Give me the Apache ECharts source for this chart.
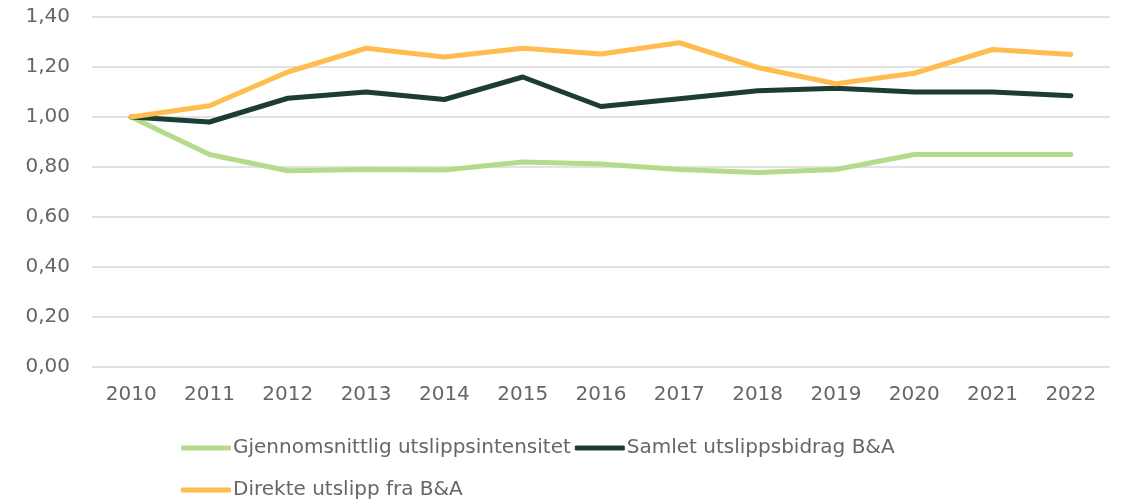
<!DOCTYPE html>
<html>
<head>
<meta charset="utf-8">
<script src="https://cdn.jsdelivr.net/npm/echarts@6/dist/echarts.min.js"></script>
<style>
  html, body { margin: 0; padding: 0; background: #fff; }
  #chart { width: 1121px; height: 503px; }
</style>
</head>
<body>
<div id="chart"></div>
<script>
// år på x-aksen
const years = ["2010", "2011", "2012", "2013", "2014", "2015", "2016", "2017", "2018", "2019", "2020", "2021", "2022"];
// indeks, 2010 = 1,00
const intensitet = [1.00, 0.85, 0.785, 0.79, 0.788, 0.82, 0.812, 0.79, 0.778, 0.79, 0.85, 0.85, 0.85];
const samlet = [1.00, 0.98, 1.075, 1.10, 1.07, 1.16, 1.042, 1.073, 1.105, 1.115, 1.10, 1.10, 1.085];
const direkte = [1.00, 1.045, 1.18, 1.275, 1.24, 1.275, 1.252, 1.297, 1.198, 1.133, 1.175, 1.27, 1.25];

const font = "DejaVu Sans";
const grey = "#666666";

const chart = echarts.init(document.getElementById("chart"));
chart.setOption({
  animation: false,
  grid: { left: 92, right: 11, top: 17, bottom: 136 },
  legend: [
    {
      left: 176, top: 433,
      itemWidth: 50, itemHeight: 5, itemGap: 4,
      icon: "roundRect",
      textStyle: { fontFamily: font, fontSize: 20, color: grey, padding: [0, 0, 0, -3] },
      data: ["Gjennomsnittlig utslippsintensitet", "Samlet utslippsbidrag B&A"]
    },
    {
      left: 176, top: 475,
      itemWidth: 50, itemHeight: 5,
      icon: "roundRect",
      textStyle: { fontFamily: font, fontSize: 20, color: grey, padding: [0, 0, 0, -3] },
      data: ["Direkte utslipp fra B&A"]
    }
  ],
  xAxis: {
    type: "category",
    data: years,
    boundaryGap: true,
    axisLine: { show: false },
    axisTick: { show: false },
    axisLabel: { fontFamily: font, fontSize: 20, color: grey, margin: 18 }
  },
  yAxis: {
    type: "value",
    min: 0, max: 1.4, interval: 0.2,
    axisLine: { show: false },
    axisTick: { show: false },
    splitLine: { lineStyle: { color: "#d9d9d9", width: 1.5 } },
    axisLabel: {
      fontFamily: font, fontSize: 20, color: grey, margin: 22,
      formatter: v => v.toFixed(2).replace(".", ",")
    }
  },
  series: [
    {
      name: "Gjennomsnittlig utslippsintensitet", type: "line", data: intensitet,
      showSymbol: false, color: "#b5da8c",
      lineStyle: { width: 5, cap: "round", join: "round" }
    },
    {
      name: "Samlet utslippsbidrag B&A", type: "line", data: samlet,
      showSymbol: false, color: "#1c3d33",
      lineStyle: { width: 5, cap: "round", join: "round" }
    },
    {
      name: "Direkte utslipp fra B&A", type: "line", data: direkte,
      showSymbol: false, color: "#ffbd4f",
      lineStyle: { width: 5, cap: "round", join: "round" }
    }
  ]
});
</script>
</body>
</html>
